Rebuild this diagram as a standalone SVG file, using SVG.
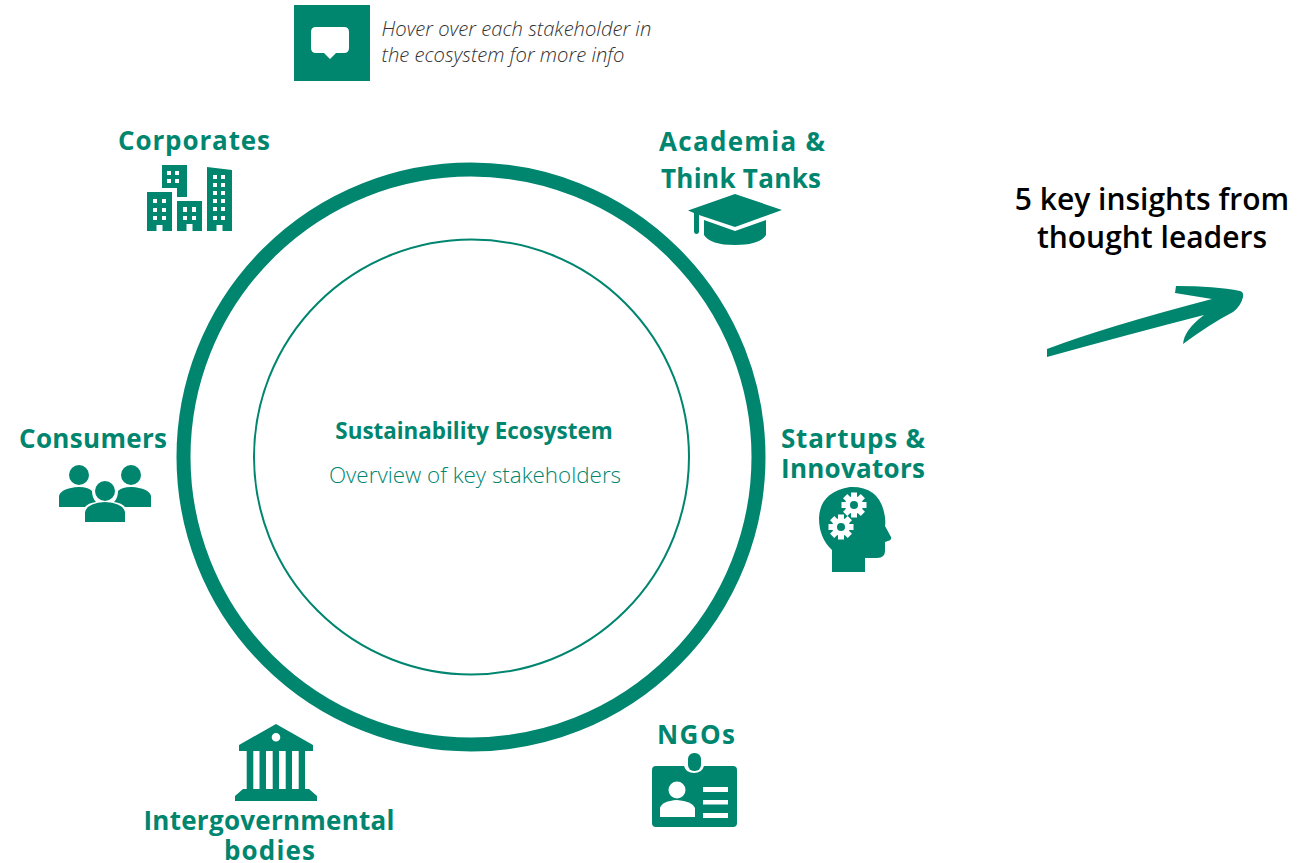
<svg xmlns="http://www.w3.org/2000/svg" width="1311" height="863" viewBox="0 0 1311 863">
<style>
.g{fill:#00856f}
.w{fill:#fff}
text{font-family:"Open Sans","Noto Sans","Liberation Sans",sans-serif}
.lab{font-size:26px;font-weight:700;fill:#00856f;text-anchor:middle}
.ins{font-size:30px;font-weight:600;fill:#000;text-anchor:middle}
.hint{font-size:20.2px;font-style:italic;font-weight:300;fill:#333}
</style>
<rect width="1311" height="863" fill="#fff"/>
<g id="hint">
<rect class="g" x="294" y="5" width="76" height="76"/>
<path class="w" d="M316 27H344Q349 27 349 32V48Q349 53 344 53H336L330 59L324 53H316Q311 53 311 48V32Q311 27 316 27Z"/>
<text class="hint" x="381.500" y="36">Hover over each stakeholder in</text>
<text class="hint" x="381.500" y="62">the ecosystem for more info</text>
</g>
<g id="ecosystem">
<circle cx="471" cy="457" r="287.500" fill="none" stroke="#00856f" stroke-width="14"/>
<circle cx="471.500" cy="457" r="217.500" fill="none" stroke="#00856f" stroke-width="2"/>
<text x="474" y="439" text-anchor="middle" font-size="22.400" font-weight="700" fill="#00856f">Sustainability Ecosystem</text>
<text x="475" y="483" text-anchor="middle" font-size="22.400" font-weight="300" fill="#00856f">Overview of key stakeholders</text>
</g>
<g id="corporates">
<text class="lab" x="194" y="150" textLength="152">Corporates</text>
<path class="g" fill-rule="evenodd" d="M162 165H187V197H177V188H162ZM167 171V175H171V171ZM175 171V175H179V171ZM167 179V183H171V179ZM175 179V183H179V179Z"/>
<path class="g" fill-rule="evenodd" d="M147 192H172V231H162.500V225H156.500V231H147ZM153 199V203H157V199ZM162 199V203H166V199ZM153 208V212H157V208ZM162 208V212H166V208ZM153 216V220H157V216ZM162 216V220H166V216Z"/>
<path class="g" fill-rule="evenodd" d="M177 201H202V231H192.500V224H186.500V231H177ZM183 207V212H187V207ZM192 207V212H196V207ZM183 216V220H187V216ZM192 216V220H196V216Z"/>
<path class="g" fill-rule="evenodd" d="M207 167L232 170V231H222.500V225H216.500V231H207ZM213 175V179H217V175ZM221 175V179H225V175ZM213 183V187H217V183ZM221 183V187H225V183ZM213 191V195H217V191ZM221 191V195H225V191ZM213 199V203H217V199ZM221 199V203H225V199ZM213 207V211H217V207ZM221 207V211H225V207ZM213 216V220H217V216ZM221 216V220H225V216Z"/>
</g>
<g id="academia">
<text class="lab" x="742" y="151" textLength="166">Academia &amp;</text>
<text class="lab" x="741" y="188" textLength="160">Think Tanks</text>
<path class="g" d="M735 194L782 210L735 227L699 215V231Q699 234 696.500 234Q694 234 694 231V213L688 210.500Z"/>
<path class="g" d="M704 220L735 231L766 220V235Q760 245 735 245Q710 245 704 235Z"/>
</g>
<g id="startups">
<text class="lab" x="853" y="448" textLength="144">Startups &amp;</text>
<text class="lab" x="853" y="478" textLength="144">Innovators</text>
<path class="g" d="M832 572V550Q819 538 819 518Q820 492 850 487Q878 486 884 512Q886 520 885 526L891 537Q892 540 888 541L885 542V551Q885 558 877 558H865V572Z"/>
<g fill="#fff">
<circle cx="854" cy="505" r="9"/>
<path d="M851 492.500H857V517.500H851ZM841.500 502H866.500V508H841.500Z"/>
<path d="M851 492.500H857V517.500H851ZM841.500 502H866.500V508H841.500Z" transform="rotate(45 854 505)"/>
<circle cx="841" cy="527" r="9"/>
<path d="M838 514.500H844V539.500H838ZM828.500 524H853.500V530H828.500Z"/>
<path d="M838 514.500H844V539.500H838ZM828.500 524H853.500V530H828.500Z" transform="rotate(45 841 527)"/>
</g>
<circle class="g" cx="854" cy="505" r="4"/>
<circle class="g" cx="841" cy="527" r="4"/>
</g>
<g id="ngos">
<text class="lab" x="696" y="744" textLength="78">NGOs</text>
<path class="g" d="M656 766H684Q686 773 694 773Q702 773 704 766H733Q737 766 737 770V823Q737 827 733 827H656Q652 827 652 823V770Q652 766 656 766Z"/>
<rect class="g" x="688" y="753" width="13" height="18" rx="6"/>
<circle class="w" cx="677" cy="790" r="8.500"/>
<path class="w" d="M660 817V808Q662 801 677 800Q692 801 695 808V817Z"/>
<path class="w" d="M703 787H728V792H703ZM703 800H728V804.500H703ZM703 813H728V818H703Z"/>
</g>
<g id="intergovernmental">
<text class="lab" x="269" y="830" textLength="251">Intergovernmental</text>
<text class="lab" x="269.500" y="860" textLength="91">bodies</text>
<path class="g" fill-rule="evenodd" d="M276 724L313 745V751H239V745ZM276 733A4.300 4.300 0 1 0 276 741.600A4.300 4.300 0 1 0 276 733Z"/>
<path class="g" d="M246.700 750H253.300V790H246.700ZM259.500 750H266V790H259.500ZM272.700 750H279V790H272.700ZM285.700 750H292V790H285.700ZM298.700 750H305V790H298.700Z"/>
<path class="g" d="M243 789H309L317 796V801H235V796Z"/>
</g>
<g id="consumers">
<text class="lab" x="93" y="448" textLength="148">Consumers</text>
<circle class="g" cx="79" cy="475" r="10"/>
<circle class="g" cx="131" cy="475" r="10"/>
<circle class="g" cx="105" cy="491" r="10"/>
<path class="g" d="M59 507V496Q61 488 79 487Q88 487 92 491Q92 498 96 502Q88 503 85 507Z"/>
<path class="g" d="M151 507V496Q149 488 131 487Q122 487 118 491Q118 498 114 502Q122 503 125 507Z"/>
<path class="g" d="M85 522V512Q87 503 105 502Q123 503 125 512V522Z"/>
</g>
<g id="insights">
<text class="ins" x="1152" y="210">5 key insights from</text>
<text class="ins" x="1152" y="248">thought leaders</text>
<path class="g" d="M1047 349Q1105 327 1212 299L1175 293L1176 286Q1215 286 1240 291Q1244 292 1243 297Q1241 306 1233 312Q1210 324 1183 344Q1184 330 1204 315Q1130 334 1047 357Z"/>
</g>
</svg>
